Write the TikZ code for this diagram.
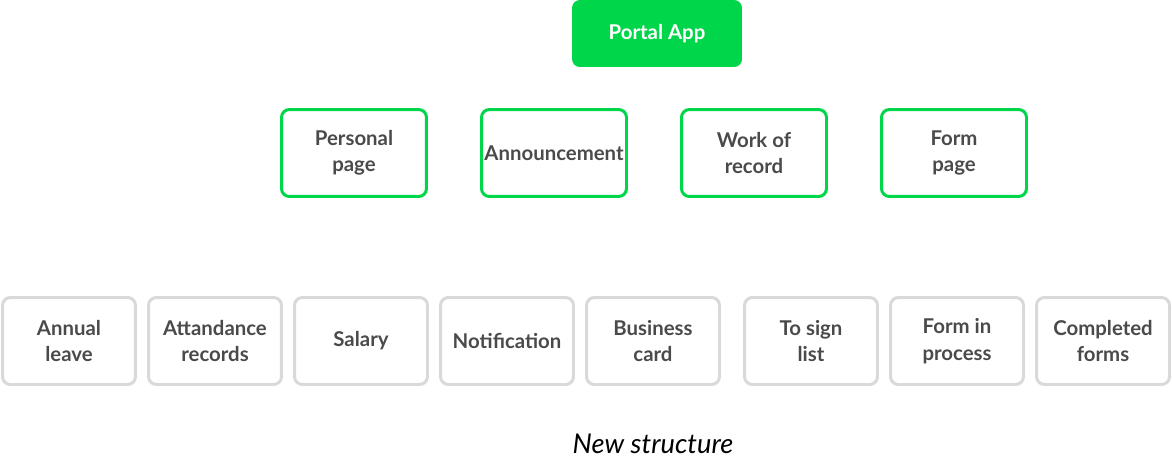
\documentclass[tikz,border=0pt]{standalone}
\usepackage{fontspec}
\setmainfont{Lato}
\definecolor{appgreen}{HTML}{00D64A}
\definecolor{boxgray}{HTML}{D9D9D9}
\definecolor{textgray}{HTML}{4A4A4A}
\tikzstyle{every node}=[align=center, font=\fontsize{11.6}{15}\selectfont\bfseries, text=textgray]
\tikzstyle{rootbox}=[rectangle, rounded corners=4.5pt, fill=appgreen, text=white,
  minimum width=3.4cm, minimum height=1.34cm, inner sep=0pt]
\tikzstyle{pagebox}=[rectangle, rounded corners=4.5pt, draw=appgreen, line width=1.7pt,
  minimum width=2.9cm, minimum height=1.74cm, inner sep=0pt]
\tikzstyle{itembox}=[rectangle, rounded corners=4.5pt, draw=boxgray, line width=1.7pt,
  minimum width=2.66cm, minimum height=1.74cm, inner sep=0pt]

\begin{document}
\begin{tikzpicture}[x = 0.02cm, y = -0.02cm]
    \useasboundingbox (0,0) rectangle (1172,459);
% Root
    \node[rootbox] (portal) at (657,33.5) {Portal App};
% Pages
    \node[pagebox] (personal) at (354,153) {Personal\\page};
    \node[pagebox] (announce) at (554,153) {Announcement};
    \node[pagebox] (workrec)  at (754,153) {Work of\\record};
    \node[pagebox] (formpage) at (954,153) {Form\\page};
% Items
    \node[itembox] (annual)    at (69,341)   {Annual\\leave};
    \node[itembox] (attend)    at (215,341)  {Attandance\\records};
    \node[itembox] (salary)    at (361,341)  {Salary};
    \node[itembox] (notif)     at (507,341)  {Notification};
    \node[itembox] (bizcard)   at (653,341)  {Business\\card};
    \node[itembox] (tosign)    at (811,341)  {To sign\\list};
    \node[itembox] (inproc)    at (957,341)  {Form in\\process};
    \node[itembox] (completed) at (1103,341) {Completed\\forms};
% Caption
    \node[font=\fontsize{15.5}{18}\selectfont\itshape, text=black, inner sep=0pt] (caption) at (653,444) {New structure};
\end{tikzpicture}
\end{document}
